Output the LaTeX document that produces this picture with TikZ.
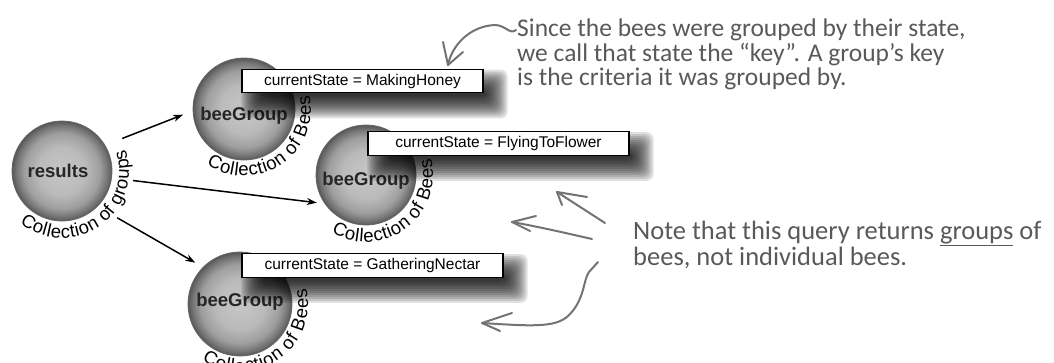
\documentclass[tikz,border=0pt]{standalone}
\usepackage{fontspec}
\setmainfont{Liberation Sans}
\newfontfamily\hand{Carlito}
\usetikzlibrary{arrows.meta,decorations.text}
\pgfdeclareradialshading{beeball}{\pgfpoint{0bp}{0bp}}{color(0bp)=(black!22); color(12bp)=(black!27); color(19bp)=(black!38); color(23bp)=(black!55); color(25bp)=(black!66); color(50bp)=(black!66)}
\pgfdeclarelayer{circles}
\pgfdeclarelayer{shadow}
\pgfsetlayers{circles,shadow,main}
\newcommand\mybxshadow[1]{%
  \foreach \k in {0,...,11}{%
    \pgfmathsetmacro\dd{12-2*\k}%
    \fill[black, fill opacity=0.12, rounded corners=7pt]
      ([shift={(12-\dd,-13-\dd)}]#1.south west) rectangle ([shift={(12+\dd,-13+\dd)}]#1.north east);
  }}
\begin{document}
\begin{tikzpicture}[x=1pt,y=1pt,
  ball/.style={circle, minimum size=#1, inner sep=0pt, outer sep=0pt, shading=beeball,
    draw=black!60, line width=0.8pt, font=\bfseries\fontsize{18.5}{20}\selectfont, text=black!85},
  statebox/.style={draw=black, line width=1.1pt, fill=white, minimum width=#1, minimum height=23.5pt,
    inner sep=0pt, font=\fontsize{15.5}{17}\selectfont},
  link/.style={line width=1.5pt, -{Stealth[length=10pt,width=7pt]}},
  hand/.style={draw=black!55, line width=2pt, line cap=round, line join=round},
  handtext/.style={text=black!65, align=left, inner sep=0pt},
  ring/.style={decorate, decoration={text along path, text align={fit to path},
    text={|\fontsize{18.5}{20}\selectfont|#1}}}
]
\useasboundingbox (0,0) rectangle (1054,-362);

% circles
\begin{pgfonlayer}{circles}
\node[ball=100pt] (results) at (62,-171) {\hspace*{-8pt}results};
\node[ball=102pt, text height=27pt, text depth=4pt] (bg1) at (244,-109) {beeGroup};
\node[ball=100pt, text height=24pt, text depth=4pt] (bg2) at (366,-175) {beeGroup};
\node[ball=104pt, text height=13.5pt, text depth=9pt] (bg3) at (240,-304) {beeGroup};
\end{pgfonlayer}

% state boxes
\node[statebox=241pt] (s1) at (362.5,-81) {currentState = MakingHoney};
\node[statebox=261pt] (s2) at (498.5,-143.5) {currentState = FlyingToFlower};
\node[statebox=261pt] (s3) at (372.5,-265.5) {currentState = GatheringNectar};
\begin{pgfonlayer}{shadow}
\mybxshadow{s1}
\mybxshadow{s2}
\mybxshadow{s3}
\end{pgfonlayer}

% curved labels
\begin{scope}
\fontsize{18.5}{20}\selectfont
\path[ring={Collection of groups}] ([shift={(231:67)}]results.center) arc[start angle=231, end angle=379, radius=67];
\path[ring={Collection of Bees}] ([shift={(236:67)}]bg1.center) arc[start angle=236, end angle=372, radius=67];
\path[ring={Collection of Bees}] ([shift={(239:67)}]bg2.center) arc[start angle=239, end angle=374, radius=67];
\path[ring={Collection of Bees}] ([shift={(236:68)}]bg3.center) arc[start angle=236, end angle=373, radius=68];
\end{scope}

% connectors
\draw[link, shorten <=18.7pt, shorten >=10.7pt] (results.31.8) -- (bg1.182.5);
\draw[link, shorten <=21.7pt, shorten >=8.3pt] (results.-8.5) -- (bg2.215.4);
\draw[link, shorten <=22.9pt, shorten >=9.2pt] (results.-45.3) -- (bg3.135.5);

% handwritten notes
\node[handtext, font=\hand\fontsize{25.5}{24.5}\selectfont, anchor=north west] (n1) at (517,-19)
  {Since the bees were grouped by their state,\\we call that state the “key”. A group’s key\\is the criteria it was grouped by.};
\node[handtext, font=\hand\fontsize{26.5}{24.5}\selectfont, anchor=north west] (n2) at (633,-221)
  {Note that this query returns \underline{groups} of\\bees, not individual bees.};

% handwritten arrows
\coordinate (h1s) at (516,-30);
\coordinate (h1t) at (448,-65);
\draw[hand] (h1s) .. controls (510,-35) and (505,-25) .. (495,-25) .. controls (470,-26) and (452,-45) .. (h1t);
\draw[hand] (443,-42) -- (h1t) -- (463,-52);

\coordinate (h2s) at (605,-223);
\coordinate (h2t) at (557,-192);
\draw[hand] (h2s) -- (h2t);
\draw[hand] (587,-197) -- (h2t) -- (562,-205);

\coordinate (h3s) at (592,-239);
\coordinate (h3t) at (512,-222);
\draw[hand] (h3s) .. controls (570,-234) and (540,-227) .. (h3t);
\draw[hand] (536,-216) -- (h3t) -- (530,-231);

\coordinate (h4s) at (598,-262);
\coordinate (h4t) at (482,-323);
\draw[hand] (h4s) -- (589,-272) .. controls (583,-280) and (585,-300) .. (568,-316) .. controls (555,-328) and (530,-326) .. (h4t);
\draw[hand] (512,-313) -- (h4t) -- (500,-331);
\end{tikzpicture}
\end{document}
